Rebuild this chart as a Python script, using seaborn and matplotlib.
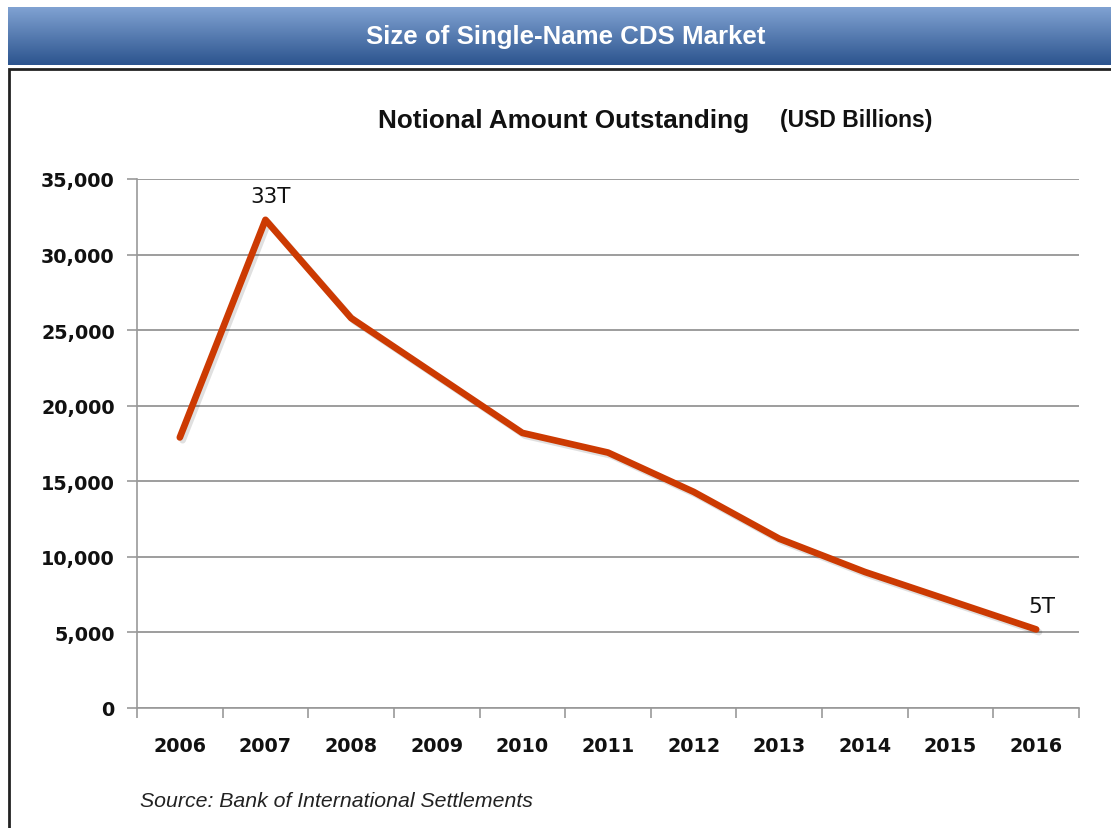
import numpy as np
import matplotlib
matplotlib.use('Agg')
import matplotlib.pyplot as plt
import matplotlib.patheffects as pe
from matplotlib.patches import Rectangle
from matplotlib.ticker import FuncFormatter, FixedLocator
import seaborn as sns

years = [2006, 2007, 2008, 2009, 2010, 2011, 2012, 2013, 2014, 2015, 2016]
notional = [17900, 32300, 25800, 22000, 18200, 16900, 14300, 11200, 9000, 7100, 5200]
labels = {2007: '33T', 2016: '5T'}

sns.set_style('white')
plt.rcParams['font.family'] = ['DejaVu Sans']

fig = plt.figure(figsize=(11.11, 8.29), dpi=100)
W, H = 1111, 829

# header banner with a vertical blue gradient
ban = fig.add_axes([8 / W, 1 - 66 / H, 1 - 8 / W, 58 / H])
grad = np.linspace(0, 1, 100).reshape(-1, 1)
top = np.array([128, 162, 210]) / 255
bot = np.array([44, 84, 142]) / 255
img = top + (bot - top) * grad[..., None]
img = np.repeat(img, 2, axis=1)
ban.imshow(img, aspect='auto', extent=[0, 1, 0, 1])
ban.set_axis_off()
ban.text(0.506, 0.5, 'Size of Single-Name CDS Market', color='white',
         ha='center', va='center', fontsize=18.6, fontweight='bold',
         family='Liberation Sans')

# black frame around the chart
fig.patches.append(Rectangle((9 / W, -0.01), 1.1, 1 - 70 / H + 0.01,
                             transform=fig.transFigure, fill=False,
                             edgecolor='#222222', linewidth=2))

ax = fig.add_axes([137 / W, 1 - 709 / H, (1079 - 137) / W, (709 - 180) / H])
sns.lineplot(x=years, y=notional, ax=ax, color='#CC3A02', linewidth=4.8,
             path_effects=[pe.SimpleLineShadow(offset=(2, -2), shadow_color='black', alpha=0.12),
                           pe.Normal()])

ax.set_xlim(years[0] - 0.5, years[-1] + 0.5)
ax.set_ylim(0, 35000)
ax.set_yticks(range(0, 35001, 5000))
ax.yaxis.set_major_formatter(FuncFormatter(lambda v, p: f'{int(v):,}'))
ax.set_xticks(years)
ax.xaxis.set_minor_locator(FixedLocator([y - 0.5 for y in years] + [years[-1] + 0.5]))
ax.tick_params(axis='x', which='major', bottom=True, length=0, pad=20, labelsize=13.8)
ax.tick_params(axis='x', which='minor', bottom=True, length=7, width=1.2,
               color='#999999', direction='out')
ax.tick_params(axis='y', left=True, length=7, width=1.2, color='#999999', pad=9,
               labelsize=13.8, direction='out')
for t in ax.get_xticklabels() + ax.get_yticklabels():
    t.set_fontweight('bold')
    t.set_color('#111111')

ax.grid(axis='y', color='#8c8c8c', linewidth=1.2)
ax.grid(axis='x', visible=False)
for s in ['top', 'right']:
    ax.spines[s].set_visible(False)
for s in ['left', 'bottom']:
    ax.spines[s].set_color('#999999')
    ax.spines[s].set_linewidth(1.2)
ax.set_xlabel('')
ax.set_ylabel('')

for yr, lab in labels.items():
    v = notional[years.index(yr)]
    ax.annotate(lab, (yr, v), xytext=(4, 10),
                textcoords='offset points', ha='center', va='bottom',
                fontsize=15.5, color='#111111')

fig.text(378 / W, 1 - 121 / H, 'Notional Amount Outstanding', ha='left', va='center',
         fontsize=18.8, fontweight='bold', color='#111111', family='Liberation Sans')
fig.text(780 / W, 1 - 121 / H, '(USD Billions)', ha='left', va='center',
         fontsize=16.5, fontweight='bold', color='#111111', family='Liberation Sans')
fig.text(140 / W, 1 - 802 / H, 'Source: Bank of International Settlements', ha='left',
         va='center', fontsize=15.3, style='italic', color='#222222', family='Liberation Sans')

fig.savefig('out.png', dpi=100, facecolor='white')
